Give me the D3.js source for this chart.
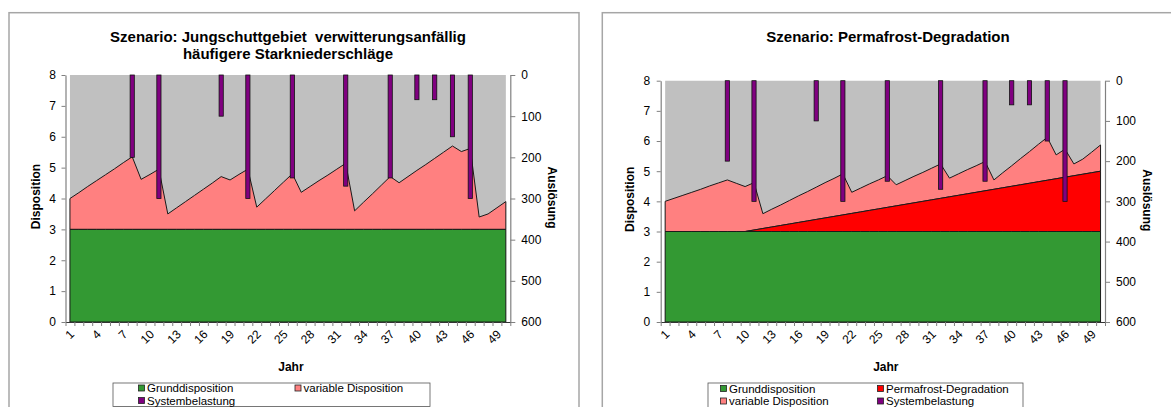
<!DOCTYPE html>
<html><head><meta charset="utf-8">
<script src="https://cdn.jsdelivr.net/npm/d3@7"></script>
<style>
body{margin:0;background:#fff}
svg{display:block}
text{font-family:"Liberation Sans",Arial,Helvetica,sans-serif}
</style>
</head><body>
<svg id="c" width="1171" height="407"></svg>
<script>
// ---------- DATA ----------
const years = [1,2,3,4,5,6,7,8,9,10,11,12,13,14,15,16,17,18,19,20,21,22,23,24,25,26,27,28,29,30,31,32,33,34,35,36,37,38,39,40,41,42,43,44,45,46,47,48,49,50];
const yearTickLabels = [1,4,7,10,13,16,19,22,25,28,31,34,37,40,43,46,49];
const dispositionTicks = [0,1,2,3,4,5,6,7,8];
const ausloesungTicks = [0,100,200,300,400,500,600];

const grunddisposition = [3,3,3,3,3,3,3,3,3,3,3,3,3,3,3,3,3,3,3,3,3,3,3,3,3,3,3,3,3,3,3,3,3,3,3,3,3,3,3,3,3,3,3,3,3,3,3,3,3,3];

// Chart 1: Jungschuttgebiet
const variableDispA = [1.00,1.19,1.39,1.58,1.77,1.96,2.16,2.35,1.62,1.78,
                       1.95,0.50,0.70,0.90,1.10,1.30,1.50,1.71,1.60,1.78,
                       1.95,0.72,0.99,1.26,1.53,1.80,1.20,1.39,1.58,1.76,
                       1.95,2.14,0.60,0.88,1.15,1.43,1.71,1.51,1.71,1.91,
                       2.10,2.30,2.50,2.70,2.52,2.62,0.40,0.50,0.70,0.90];

// Systembelastung (both charts)
const systembelastung = [0,0,0,0,0,0,0,200,0,0,
                         300,0,0,0,0,0,0,100,0,0,
                         300,0,0,0,0,250,0,0,0,0,
                         0,270,0,0,0,0,250,0,0,60,
                         0,60,0,150,0,300,0,0,0,0];

// Chart 2: Permafrost-Degradation
const permafrostDeg = [0,0,0,0,0,0,0,0,0,0,
                       0.05,0.10,0.15,0.20,0.25,0.30,0.35,0.40,0.45,0.50,
                       0.55,0.60,0.65,0.70,0.75,0.80,0.85,0.90,0.95,1.00,
                       1.05,1.10,1.15,1.20,1.25,1.30,1.35,1.40,1.45,1.50,
                       1.55,1.60,1.65,1.70,1.75,1.80,1.85,1.90,1.95,2.00];
const variableDispB = [1.00,1.10,1.20,1.30,1.40,1.51,1.61,1.71,1.60,1.49,
                       1.57,0.49,0.59,0.68,0.78,0.88,0.97,1.07,1.17,1.26,
                       1.36,0.70,0.79,0.88,0.96,1.05,0.70,0.79,0.88,0.96,
                       1.05,1.14,0.62,0.71,0.80,0.88,0.97,0.31,0.50,0.68,
                       0.87,1.05,1.24,1.42,0.79,0.93,0.39,0.50,0.68,0.87];

// ---------- STYLE ----------
const COL = {grund:'#339933', variable:'#ff8080', perma:'#ff0000', sys:'#800080', bg:'#c0c0c0', line:'#1a1a1a', axis:'#808080', frame:'#a6a6a6'};

const svg = d3.select('#c');

function drawChart(cfg){
  const g = svg.append('g');
  g.append('rect').attr('x',cfg.frame[0]).attr('y',cfg.frame[1]).attr('width',cfg.frame[2]).attr('height',cfg.frame[3])
    .attr('fill','#fff').attr('stroke',COL.frame).attr('stroke-width',1.5);

  const x = d3.scaleBand().domain(years).range([cfg.left,cfg.right]);
  const xl = d3.scaleLinear().domain([0.5,50.5]).range([cfg.left,cfg.right]);
  const y = d3.scaleLinear().domain([0,8]).range([cfg.bottom,cfg.top]);
  const y2 = d3.scaleLinear().domain([0,600]).range([cfg.top,cfg.bottom]);
  const cx = d => x(d) + x.bandwidth()/2;

  // gray background series (up to 8)
  g.append('path').datum(years)
    .attr('d', d3.area().x(cx).y0(y(0)).y1(y(8)))
    .attr('fill', COL.bg);

  // stacked areas
  const rows = years.map((yr,i)=>{const o={year:yr}; cfg.layers.forEach(L=>o[L.key]=L.values[i]); return o;});
  const stacked = d3.stack().keys(cfg.layers.map(L=>L.key))(rows);
  const area = d3.area().x((d,i)=>cx(years[i])).y0(d=>y(d[0])).y1(d=>y(d[1]));
  for(let k=stacked.length-1;k>=0;k--){
    g.append('path').datum(stacked[k]).attr('d',area)
      .attr('fill',cfg.layers[k].color).attr('stroke',COL.line).attr('stroke-width',1).attr('stroke-linejoin','round');
  }

  // bars (secondary axis, reversed)
  const bw = 4.2;
  g.selectAll('rect.bar').data(years.map((yr,i)=>({yr,v:systembelastung[i]})).filter(d=>d.v>0))
    .enter().append('rect').attr('class','bar')
    .attr('x',d=>cx(d.yr)-bw/2).attr('width',bw)
    .attr('y',y2(0)).attr('height',d=>y2(d.v)-y2(0))
    .attr('fill',COL.sys).attr('stroke','#111').attr('stroke-width',0.8);

  // axes
  const styleAxis = sel => {
    sel.attr('font-family',null).attr('font-size',null);
    sel.select('.domain').attr('stroke',COL.axis).attr('stroke-width',1.2);
    sel.selectAll('.tick line').attr('stroke',COL.axis);
    sel.selectAll('.tick text').attr('fill','#000').style('font-size','12px');
  };
  g.append('g').attr('transform',`translate(${cfg.left},0)`)
    .call(d3.axisLeft(y).tickValues(dispositionTicks).tickSize(4).tickSizeOuter(0).tickPadding(cfg.lpad))
    .call(styleAxis);
  g.append('g').attr('transform',`translate(${cfg.right},0)`)
    .call(d3.axisRight(y2).tickValues(ausloesungTicks).tickSize(5).tickSizeOuter(0).tickPadding(6))
    .call(styleAxis);
  const bounds = years.map(v=>v-0.5).concat([50.5]);
  g.append('g').attr('transform',`translate(0,${cfg.bottom})`)
    .call(d3.axisBottom(xl).tickValues(bounds).tickSize(4).tickSizeOuter(0).tickFormat(''))
    .call(styleAxis)
    .call(s=>s.select('.domain').attr('stroke','#333'));

  // rotated x labels
  g.selectAll('text.xl').data(yearTickLabels).enter().append('text').attr('class','xl')
    .attr('transform',d=>`translate(${cx(d)+5},${cfg.bottom+13}) rotate(-45)`)
    .attr('text-anchor','end').style('font-size','12px').text(d=>d);

  // titles
  cfg.title.forEach((t,i)=>{
    g.append('text').attr('x',cfg.titleX).attr('y',cfg.titleY+i*17.5).attr('text-anchor','middle')
      .style('font-size','15px').style('font-weight','bold').style('white-space','pre').text(t);
  });
  // axis titles
  g.append('text').attr('x',(cfg.left+cfg.right)/2+3).attr('y',cfg.bottom+49).attr('text-anchor','middle')
    .style('font-size','12px').style('font-weight','bold').text('Jahr');
  g.append('text').attr('transform',`translate(${cfg.dispX},${(cfg.top+cfg.bottom)/2-2}) rotate(-90)`)
    .attr('text-anchor','middle').attr('dy','0.35em').style('font-size','12px').style('font-weight','bold').text('Disposition');
  g.append('text').attr('transform',`translate(${cfg.ausX},${(cfg.top+cfg.bottom)/2-1}) rotate(90)`)
    .attr('text-anchor','middle').attr('dy','0.35em').style('font-size','12px').style('font-weight','bold').text('Auslösung');

  // legend
  const L = cfg.legend;
  g.append('rect').attr('x',L.box[0]).attr('y',L.box[1]).attr('width',L.box[2]).attr('height',L.box[3])
    .attr('fill','#fff').attr('stroke','#555').attr('stroke-width',0.8);
  L.items.forEach(it=>{
    g.append('rect').attr('x',it.x).attr('y',it.y-7).attr('width',6).attr('height',6)
      .attr('fill',it.color).attr('stroke','#222').attr('stroke-width',0.8);
    g.append('text').attr('x',it.x+8.5).attr('y',it.y).style('font-size','11.5px').text(it.label);
  });
}

drawChart({
  frame:[9,12.7,570,420],
  left:65.5, right:510.3, top:75, bottom:322,
  lpad:5.5,
  title:['Szenario: Jungschuttgebiet  verwitterungsanfällig','häufigere Starkniederschläge'],
  titleX:288, titleY:41.5,
  dispX:36, ausX:552.7,
  layers:[
    {key:'grund', values:grunddisposition, color:COL.grund},
    {key:'variable', values:variableDispA, color:COL.variable}
  ],
  legend:{box:[113,383,317,23.5], items:[
    {x:138.5, y:392, color:COL.grund, label:'Grunddisposition'},
    {x:295, y:392, color:COL.variable, label:'variable Disposition'},
    {x:138.5, y:404.5, color:COL.sys, label:'Systembelastung'}
  ]}
});

drawChart({
  frame:[602.3,12.7,600,420],
  left:660.7, right:1105, top:80.7, bottom:322,
  lpad:6.5,
  title:['Szenario: Permafrost-Degradation'],
  titleX:888, titleY:42,
  dispX:629.3, ausX:1147,
  layers:[
    {key:'grund', values:grunddisposition, color:COL.grund},
    {key:'perma', values:permafrostDeg, color:COL.perma},
    {key:'variable', values:variableDispB, color:COL.variable}
  ],
  legend:{box:[708,383,315,30], items:[
    {x:720.5, y:392.5, color:COL.grund, label:'Grunddisposition'},
    {x:877.5, y:392.5, color:COL.perma, label:'Permafrost-Degradation'},
    {x:720.5, y:405, color:COL.variable, label:'variable Disposition'},
    {x:877.5, y:405, color:COL.sys, label:'Systembelastung'}
  ]}
});
</script>
</body></html>
